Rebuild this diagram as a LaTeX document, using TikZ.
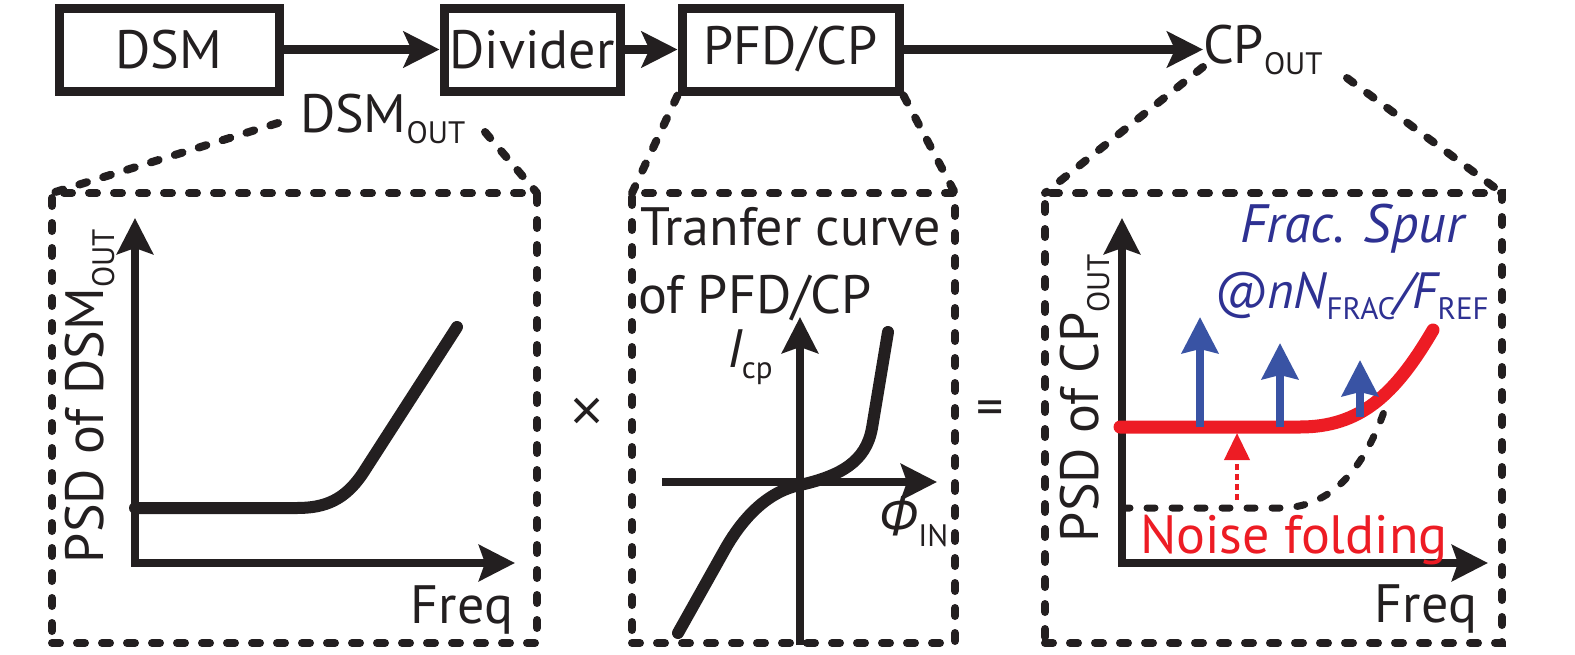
\documentclass[tikz,border=0pt]{standalone}
\usepackage{fontspec}
\setmainfont{PT Sans}
\newfontfamily\grkfont{Open Sans}
\usetikzlibrary{arrows.meta}
\definecolor{ink}{HTML}{231F20}
\definecolor{spurred}{HTML}{ED1C24}
\definecolor{navy}{HTML}{2E3192}
\definecolor{spurblue}{HTML}{3953A4}
\newcommand{\bigtxt}{\fontsize{54}{60}\selectfont}
\newcommand{\lsub}[1]{\raisebox{-11pt}{\fontsize{31}{31}\selectfont #1}}
\tikzset{axtip/.tip={Stealth[length=36pt,width=36pt,inset=6pt]}}
\begin{document}
\begin{tikzpicture}[x=1pt,y=-1pt,
  blk/.style={draw=ink, line width=9pt, minimum height=83pt, inner sep=0pt, font=\bigtxt, text=ink},
  lbl/.style={inner sep=0pt, outer sep=0pt, font=\bigtxt, text=ink},
  arr/.style={draw=ink, line width=8.5pt, -{Stealth[length=36pt,width=36pt,inset=8pt]}},
  zoomline/.style={draw=ink, line width=8pt, dash pattern=on 8pt off 17pt, line cap=round},
  panel/.style={draw=ink, line width=8pt, dash pattern=on 8pt off 17pt, line cap=round, inner sep=0pt, outer sep=0pt},
  axis/.style={draw=ink, line width=8pt, line join=miter},
  curve/.style={draw=ink, line width=12pt, line cap=round, line join=round},
  spur/.style={draw=spurblue, line width=8pt, -{Stealth[length=36pt,width=36pt,inset=4pt]}}
]
\useasboundingbox (0,0) rectangle (1575,654);

% top row blocks
\node[blk, minimum width=220pt] (dsm) at (169,49.5) {DSM};
\node[blk, minimum width=176pt] (div) at (532,49.5) {Divider};
\node[blk, minimum width=217pt] (pfd) at (790.5,49.5) {PFD/CP};
\node[lbl, anchor=base west] (cpout) at (1203,63) {CP\lsub{OUT}};

\draw[arr] (dsm) -- (div);
\draw[arr] (div) -- (pfd);
\draw[arr] (pfd) -- (pfd -| cpout.west);

% DSM_OUT label
\node[lbl, anchor=base west] (dsmout) at (300,132) {DSM\lsub{OUT}};

% panels
\node[panel, minimum width=485pt, minimum height=450pt] (p1) at (294.5,418) {};
\node[panel, minimum width=323pt, minimum height=450pt] (p2) at (793.5,418) {};
\node[panel, minimum width=457pt, minimum height=450pt] (p3) at (1273.5,418) {};

% zoom lines
\coordinate (z1a) at (278,123);
\coordinate (z1b) at (485,132);
\coordinate (z3a) at (1203,67);
\coordinate (z3b) at (1347,78);
\draw[zoomline] (z1a) -- (p1.north west);
\draw[zoomline] (z1b) -- (p1.north east);
\draw[zoomline] (pfd.south west) -- (p2.north west);
\draw[zoomline] (pfd.south east) -- (p2.north east);
\draw[zoomline] (z3a) -- (p3.north west);
\draw[zoomline] (z3b) -- (p3.north east);

% ---- left panel
\draw[axis, axtip-axtip] (135,218) -- (135,563) -- (515,563);
\draw[curve] (135,508) -- (297,508) .. controls (325,508) and (345,500) .. (363,473) -- (457,327);
\node[lbl, anchor=base west, rotate=90] (yl1) at (103,563) {PSD of DSM\lsub{OUT}};
\node[lbl, anchor=base east] (fq1) at (513,623) {Freq};

% ---- middle panel
\node[lbl, anchor=base west] (tc1) at (640,245) {Tranfer curve};
\node[lbl, anchor=base west] (tc2) at (638,313) {of PFD/CP};
\draw[axis, -axtip] (800,645) -- (800,317);
\draw[axis, -axtip] (662,482) -- (937,482);
\draw[curve] (678,633) -- (724,551) .. controls (740,522) and (765,492) .. (800,485)
  .. controls (840,476) and (866,462) .. (872,428) -- (888,332);
\node[lbl, anchor=base west] (icp) at (727,367) {\itshape I\upshape\lsub{cp}};
\node[lbl, anchor=base west] (phi) at (878,535) {{\grkfont\itshape Φ}\lsub{IN}};

% operators
\node[lbl, font=\grkfont\fontsize{58}{62}\selectfont] (times) at (587,415) {×};
\node[lbl] (eq) at (990,413) {=};

% ---- right panel
\draw[axis, axtip-axtip] (1122,218) -- (1122,563) -- (1488,563);
\node[lbl, anchor=base west, rotate=90] (yl3) at (1098,542) {PSD of CP\lsub{OUT}};
\node[lbl, anchor=base east] (fq3) at (1477,622) {Freq};
\draw[draw=ink, line width=7pt, dash pattern=on 8pt off 17pt, line cap=round]
  (1122,508) -- (1280,508) .. controls (1330,508) and (1365,470) .. (1387,403);
\draw[draw=spurred, line width=13pt, line cap=round]
  (1120,427) -- (1300,427) .. controls (1360,427) and (1395,395) .. (1433,330);
\draw[spur] (1200,427) -- (1200,317);
\draw[spur] (1280,427) -- (1280,343);
\draw[spur] (1360,417) -- (1360,360);
\draw[draw=spurred, line width=4pt, dash pattern=on 6pt off 4pt, -{Triangle[length=27pt,width=25pt]}] (1237,500) -- (1237,433);
\node[lbl, anchor=base west, text=spurred] (nf) at (1140,553) {Noise folding};
\node[lbl, anchor=base west, text=navy] (fs) at (1240,242) {\itshape Frac. Spur};
\node[lbl, anchor=base west, text=navy, font=\fontsize{51}{60}\selectfont] (nn) at (1213,308) {\itshape @nN\upshape\lsub{FRAC}\itshape/F\upshape\lsub{REF}};
\end{tikzpicture}
\end{document}
